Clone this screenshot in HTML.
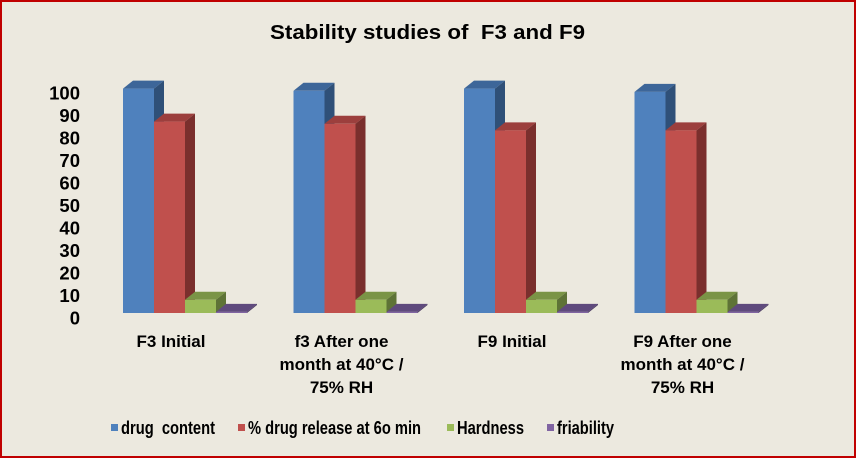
<!DOCTYPE html>
<html><head><meta charset="utf-8">
<style>
html,body{margin:0;padding:0;}
body{width:856px;height:458px;overflow:hidden;background:#ECE9DF;font-family:"Liberation Sans",sans-serif;}
#frame{position:absolute;left:0;top:0;width:852px;height:454px;border:2px solid #C00000;background:#ECE9DF;}
text{white-space:pre;}
</style></head><body>
<div id="frame"></div>
<svg id="chart" width="856" height="458" style="position:absolute;left:0;top:0">
<text x="270" y="39" textLength="315" lengthAdjust="spacingAndGlyphs" font-size="20" font-weight="bold" fill="#000">Stability studies of  F3 and F9</text>
<g id="yaxis"></g>
<g id="bars"></g>
<g id="xlabels"></g>
<g id="legend"></g>
</svg>
<script>
const categories = [["F3 Initial"],["f3 After one","month at 40°C /","75% RH"],["F9 Initial"],["F9 After one","month at 40°C /","75% RH"]];
const seriesNames = ["drug  content","% drug release at 6o min","Hardness","friability"];
const drugContent = [102, 101, 102, 100.5];
const drugRelease = [87, 86, 83, 83];
const hardness = [6, 6, 6, 6];
const friability = [0.5, 0.5, 0.5, 0.5];
const yTicks = [0,10,20,30,40,50,60,70,80,90,100];

const series=[drugContent,drugRelease,hardness,friability];
const front=["#4F81BD","#C0504D","#9BBB59","#8064A2"];
const top_=["#3D6699","#9C3F3D","#7A9446","#5F4A7D"];
const side=["#2F5078","#7A2F2D","#5E7336","#4A3962"];
const ns="http://www.w3.org/2000/svg";
const base=313, scale=2.2, dx=10, dy=-8, bw=31, gx0=123, gstep=170.5;
function yv(v){return base - v*scale;}
function mk(tag,attrs,parent){const e=document.createElementNS(ns,tag);for(const k in attrs)e.setAttribute(k,attrs[k]);parent.appendChild(e);return e;}
const ya=document.getElementById('yaxis');
yTicks.forEach(t=>{
  const e=mk('text',{x:80,y:318-t*2.25+6.5,'text-anchor':'end','font-size':18.5,'font-weight':'bold'},ya);
  e.textContent=t;
  
  
});
const bars=document.getElementById('bars');
const xl=document.getElementById('xlabels');
categories.forEach((c,i)=>{
  const gx=gx0+i*gstep;
  series.forEach((s,j)=>{
    const x=gx+j*bw, y=yv(s[i]), h=base-y;
    const g=mk('g',{},bars);
    
    
    mk('polygon',{points:`${x},${y} ${x+dx},${y+dy} ${x+bw+dx},${y+dy} ${x+bw},${y}`,fill:top_[j]},g);
    mk('polygon',{points:`${x+bw},${y} ${x+bw+dx},${y+dy} ${x+bw+dx},${base+dy} ${x+bw},${base}`,fill:side[j]},g);
    mk('rect',{x:x,y:y,width:bw,height:Math.max(h,0.01),fill:front[j]},g);
  });
  c.forEach((line,k)=>{
    const e=mk('text',{x:gx+48,y:347+k*23,'text-anchor':'middle','font-size':17,'font-weight':'bold'},xl);
    e.textContent=line;
    
    
  });
});
const lg=document.getElementById('legend');
const lx=[111,238,447,547];
const lw=[94,173,67,57];
seriesNames.forEach((n,j)=>{
  const g=mk('g',{},lg);
  
  
  mk('rect',{x:lx[j],y:424,width:7,height:7,fill:front[j]},g);
  const t=mk('text',{x:lx[j]+10,y:434,'font-size':18,'font-weight':'bold',textLength:lw[j],lengthAdjust:'spacingAndGlyphs'},g);
  t.textContent=n;
});
</script>
</body></html>
